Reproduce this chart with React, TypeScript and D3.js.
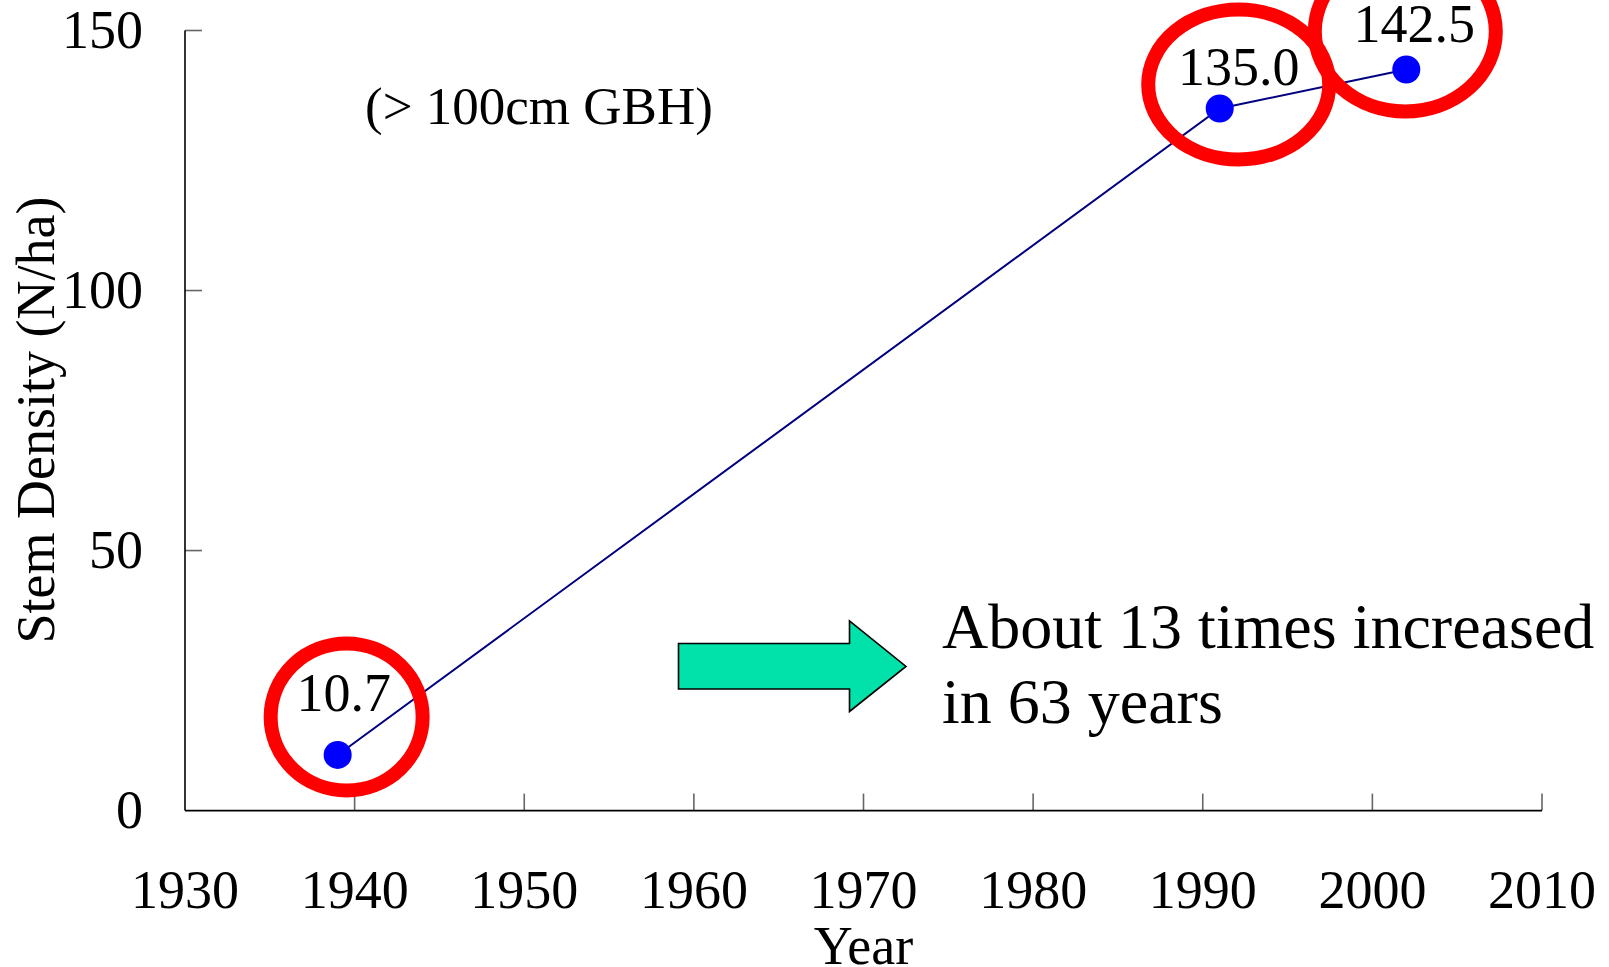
import React from "react";
import * as d3 from "d3";

// Stem density of large trees (> 100 cm girth at breast height)
const years: number[] = [1939, 1991, 2002];
const density: number[] = [10.7, 135.0, 142.5];

const xTicks: number[] = [1930, 1940, 1950, 1960, 1970, 1980, 1990, 2000, 2010];
const yTicks: number[] = [0, 50, 100, 150];

const yTitle = "Stem Density (N/ha)";
const xTitle = "Year";
const subtitle = "(> 100cm GBH)";
const noteLines: string[] = ["About 13 times increased", "in 63 years"];

// Placement of value labels and highlight rings, relative to each point
const labelOffsets: [number, number][] = [
  [6, -44],
  [19, -24],
  [8, -28],
];
const rings: { dx: number; dy: number; rx: number; ry: number }[] = [
  { dx: 9, dy: -38, rx: 76, ry: 73.5 },
  { dx: 19, dy: -24, rx: 90.5, ry: 75 },
  { dx: -1, dy: -38, rx: 90.5, ry: 80 },
];

const W = 1609;
const H = 967;
const FONT = "'Liberation Serif', 'Times New Roman', serif";

export default function App() {
  const x = d3.scaleLinear().domain([1930, 2010]).range([185, 1542]);
  const y = d3.scaleLinear().domain([0, 150]).range([810.6, 30.5]);

  const pts = years.map((yr, i) => [x(yr), y(density[i])] as [number, number]);
  const line = d3.line<[number, number]>().x((d) => d[0]).y((d) => d[1]);
  const fmt = d3.format(".1f");

  const x0 = x(1930);
  const y0 = y(0);

  // Block arrow pointing at the note
  const arrow = [
    [678.5, 643.5],
    [849.5, 643.5],
    [849.5, 621],
    [906, 666.5],
    [849.5, 711.5],
    [849.5, 689],
    [678.5, 689],
  ];

  return (
    <svg
      width={W}
      height={H}
      viewBox={`0 0 ${W} ${H}`}
      style={{ position: "absolute", left: 0, top: 0, display: "block", background: "#fff" }}
      fontFamily={FONT}
    >
      <rect x={0} y={0} width={W} height={H} fill="#fff" />

      {/* ticks */}
      {yTicks
        .filter((t) => t > 0)
        .map((t) => (
          <line key={"yt" + t} x1={x0} x2={x0 + 17} y1={y(t)} y2={y(t)} stroke="#666" strokeWidth={1.6} />
        ))}
      {xTicks
        .filter((t) => t > 1930)
        .map((t) => (
          <line key={"xt" + t} x1={x(t)} x2={x(t)} y1={y0} y2={y0 - 17} stroke="#666" strokeWidth={1.6} />
        ))}

      {/* axes */}
      <line x1={x0} x2={x0} y1={y(150)} y2={y0} stroke="#000" strokeWidth={1.6} />
      <line x1={x0} x2={x(2010)} y1={y0} y2={y0} stroke="#000" strokeWidth={1.6} />

      {/* tick labels */}
      {yTicks.map((t) => (
        <text key={"yl" + t} x={143} y={y(t) + 17} textAnchor="end" fontSize={54} fill="#000">
          {t}
        </text>
      ))}
      {xTicks.map((t) => (
        <text key={"xl" + t} x={x(t)} y={908} textAnchor="middle" fontSize={54} fill="#000">
          {t}
        </text>
      ))}

      {/* axis titles */}
      <text
        transform={`translate(54, 420) rotate(-90)`}
        textAnchor="middle"
        fontSize={54}
        fill="#000"
      >
        {yTitle}
      </text>
      <text x={(x0 + x(2010)) / 2} y={964} textAnchor="middle" fontSize={54} fill="#000">
        {xTitle}
      </text>

      <text x={365} y={124} fontSize={53} fill="#000">
        {subtitle}
      </text>

      {/* series */}
      <path d={line(pts) || ""} fill="none" stroke="#000080" strokeWidth={2} />
      {pts.map((p, i) => (
        <circle key={"pt" + i} cx={p[0]} cy={p[1]} r={14} fill="#0000ff" />
      ))}

      {/* highlight rings */}
      {pts.map((p, i) => (
        <ellipse
          key={"ring" + i}
          cx={p[0] + rings[i].dx}
          cy={p[1] + rings[i].dy}
          rx={rings[i].rx}
          ry={rings[i].ry}
          fill="none"
          stroke="#ff0000"
          strokeWidth={14}
        />
      ))}

      {/* value labels */}
      {pts.map((p, i) => (
        <text
          key={"vl" + i}
          x={p[0] + labelOffsets[i][0]}
          y={p[1] + labelOffsets[i][1]}
          textAnchor="middle"
          fontSize={54}
          fill="#000"
        >
          {fmt(density[i])}
        </text>
      ))}

      {/* note with arrow */}
      <polygon
        points={arrow.map((a) => a.join(",")).join(" ")}
        fill="rgb(0,226,170)"
        stroke="#000"
        strokeWidth={1.6}
        strokeLinejoin="miter"
      />
      {noteLines.map((s, i) => (
        <text key={"note" + i} x={942} y={648 + i * 75} fontSize={64} fill="#000">
          {s}
        </text>
      ))}
    </svg>
  );
}
